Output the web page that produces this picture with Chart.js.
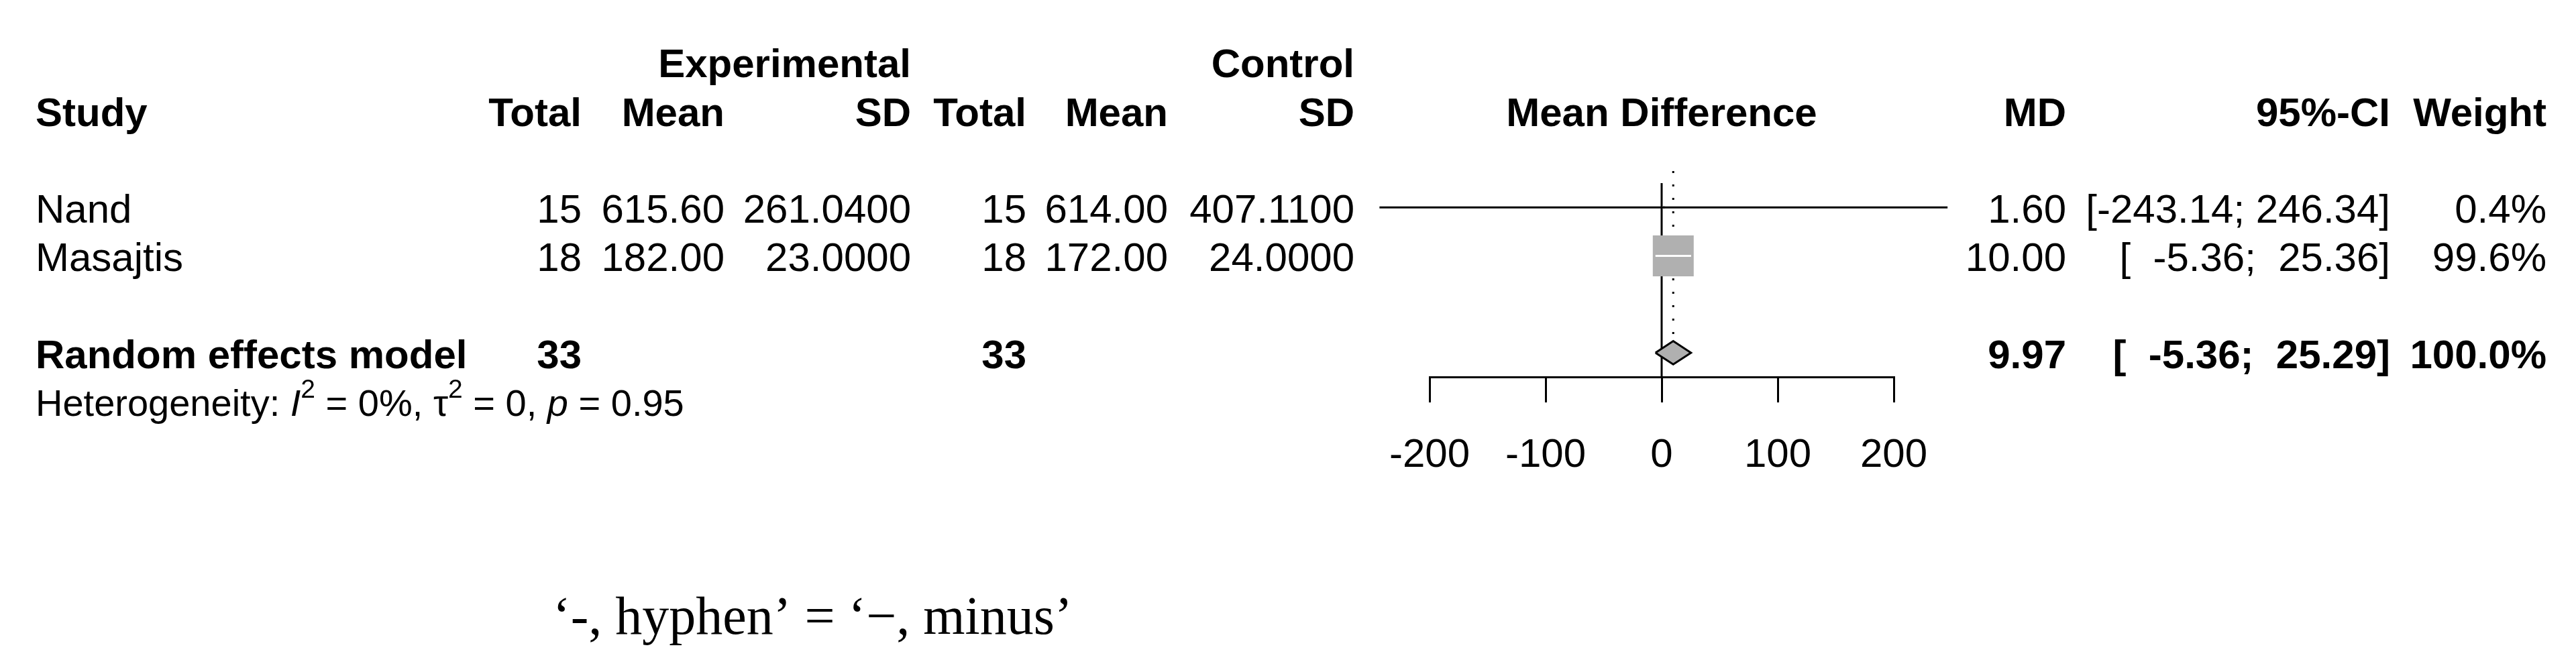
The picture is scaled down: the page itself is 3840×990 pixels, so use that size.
<!DOCTYPE html>
<html>
<head>
<meta charset="utf-8">
<title>Forest plot</title>
<script src="https://cdn.jsdelivr.net/npm/chart.js@4.4.1/dist/chart.umd.min.js"></script>
<style>
  html, body { margin: 0; padding: 0; background: #fff; }
  #wrap { width: 3840px; height: 990px; }
</style>
</head>
<body>
<div id="wrap"><canvas id="forest" width="3840" height="990"></canvas></div>
<script>
// study level data
const STUDIES = ['Nand', 'Masajtis'];
const EXP_TOTAL = [15, 18];
const EXP_MEAN = [615.60, 182.00];
const EXP_SD = [261.04, 23.00];
const CTRL_TOTAL = [15, 18];
const CTRL_MEAN = [614.00, 172.00];
const CTRL_SD = [407.11, 24.00];
const MD = [1.60, 10.00];
const CI_LOWER = [-243.14, -5.36];
const CI_UPPER = [246.34, 25.36];
const WEIGHT = [0.4, 99.6];

// pooled estimate
const POOLED_LABEL = 'Random effects model';
const POOLED_TOTALS = [33, 33];
const POOLED_MD = 9.97;
const POOLED_LOWER = -5.36;
const POOLED_UPPER = 25.29;
const POOLED_WEIGHT = 100.0;

// heterogeneity
const HET_I2 = 0;
const HET_TAU2 = 0;
const HET_P = 0.95;

const NULL_EFFECT = 0;
const X_TICKS = [-200, -100, 0, 100, 200];
const NOTE = '\u2018-, hyphen\u2019 = \u2018\u2212, minus\u2019';

const SANS = '"Liberation Sans", Arial, Helvetica, sans-serif';
const SERIF = '"Liberation Serif", "Times New Roman", serif';
const FS = 60;
const GREY = '#b0b0b0';
const SQUARE_MAX = 61;     // px, side of the heaviest study square
const DIAMOND_HALF = 0.24; // row units

const pooledRow = STUDIES.length + 2;
const maxW = Math.max(...WEIGHT);

function squareSide(i) {
	return SQUARE_MAX * Math.sqrt(WEIGHT[i] / maxW);
}

// CI drawn white when it sits inside its square (as meta does)
function ciColor(chart, i) {
	const x = chart.scales.x;
	if (!x) return '#000';
	const c = x.getPixelForValue(MD[i]);
	const half = squareSide(i) / 2;
	const inside = x.getPixelForValue(CI_LOWER[i]) >= c - half && x.getPixelForValue(CI_UPPER[i]) <= c + half;
	return inside ? '#fff' : '#000';
}

function padList(arr) {
	const s = arr.map(v => v.toFixed(2));
	const w = Math.max(...s.map(t => t.length));
	return s.map(t => t.padStart(w, ' '));
}
const allLower = padList(CI_LOWER.concat([POOLED_LOWER]));
const allUpper = padList(CI_UPPER.concat([POOLED_UPPER]));
const ciText = allLower.map((l, i) => '[' + l + '; ' + allUpper[i] + ']');

const COL = {
	study: 53,
	expTotal: 867, expMean: 1080, expSD: 1358,
	ctrlTotal: 1530, ctrlMean: 1741, ctrlSD: 2019,
	md: 3080, ci: 3563, weight: 3796,
};

function put(ctx, str, x, y, align, weight, size, family, style) {
	ctx.font = (style || 'normal') + ' ' + (weight || 'normal') + ' ' + (size || FS) + 'px ' + (family || SANS);
	ctx.textAlign = align || 'left';
	ctx.textBaseline = 'alphabetic';
	ctx.fillStyle = '#000';
	ctx.fillText(str, x, y);
	return ctx.measureText(str).width;
}

const tablePlugin = {
	id: 'forestTable',
	afterDraw(chart) {
		const ctx = chart.ctx;
		const ys = chart.scales.y;
		const xs = chart.scales.x;
		const rowY = r => ys.getPixelForValue(r) + 23;
		ctx.save();

		// headers
		put(ctx, 'Experimental', COL.expSD, rowY(-2), 'right', 'bold');
		put(ctx, 'Control', COL.ctrlSD, rowY(-2), 'right', 'bold');
		const h = rowY(-1);
		put(ctx, 'Study', COL.study, h, 'left', 'bold');
		put(ctx, 'Total', COL.expTotal, h, 'right', 'bold');
		put(ctx, 'Mean', COL.expMean, h, 'right', 'bold');
		put(ctx, 'SD', COL.expSD, h, 'right', 'bold');
		put(ctx, 'Total', COL.ctrlTotal, h, 'right', 'bold');
		put(ctx, 'Mean', COL.ctrlMean, h, 'right', 'bold');
		put(ctx, 'SD', COL.ctrlSD, h, 'right', 'bold');
		put(ctx, 'Mean Difference', (xs.left + xs.right) / 2, h, 'center', 'bold');
		put(ctx, 'MD', COL.md, h, 'right', 'bold');
		put(ctx, '95%-CI', COL.ci, h, 'right', 'bold');
		put(ctx, 'Weight', COL.weight, h, 'right', 'bold');

		// study rows
		STUDIES.forEach((s, i) => {
			const y = rowY(i + 1);
			put(ctx, s, COL.study, y, 'left');
			put(ctx, String(EXP_TOTAL[i]), COL.expTotal, y, 'right');
			put(ctx, EXP_MEAN[i].toFixed(2), COL.expMean, y, 'right');
			put(ctx, EXP_SD[i].toFixed(4), COL.expSD, y, 'right');
			put(ctx, String(CTRL_TOTAL[i]), COL.ctrlTotal, y, 'right');
			put(ctx, CTRL_MEAN[i].toFixed(2), COL.ctrlMean, y, 'right');
			put(ctx, CTRL_SD[i].toFixed(4), COL.ctrlSD, y, 'right');
			put(ctx, MD[i].toFixed(2), COL.md, y, 'right');
			put(ctx, ciText[i], COL.ci, y, 'right');
			put(ctx, WEIGHT[i].toFixed(1) + '%', COL.weight, y, 'right');
		});

		// pooled row
		const p = rowY(pooledRow);
		put(ctx, POOLED_LABEL, COL.study, p, 'left', 'bold');
		put(ctx, String(POOLED_TOTALS[0]), COL.expTotal, p, 'right', 'bold');
		put(ctx, String(POOLED_TOTALS[1]), COL.ctrlTotal, p, 'right', 'bold');
		put(ctx, POOLED_MD.toFixed(2), COL.md, p, 'right', 'bold');
		put(ctx, ciText[STUDIES.length], COL.ci, p, 'right', 'bold');
		put(ctx, POOLED_WEIGHT.toFixed(1) + '%', COL.weight, p, 'right', 'bold');

		// heterogeneity line
		const hy = ys.getPixelForValue(pooledRow + 1) + 22;
		const parts = [
			['Heterogeneity: ', 0, 'normal'],
			['I', 0, 'italic'],
			['2', 1, 'normal'],
			[' = ' + HET_I2 + '%, ', 0, 'normal'],
			['\u03c4', 0, 'normal'],
			['2', 1, 'normal'],
			[' = ' + HET_TAU2 + ', ', 0, 'normal'],
			['p', 0, 'italic'],
			[' = ' + HET_P.toFixed(2), 0, 'normal'],
		];
		let hx = COL.study;
		parts.forEach(([t, sup, st]) => {
			hx += sup
				? put(ctx, t, hx, hy - 27, 'left', 'normal', 39, SANS, st)
				: put(ctx, t, hx, hy, 'left', 'normal', 56, SANS, st);
		});

		// footnote
		put(ctx, NOTE, 824, 945, 'left', 'normal', 80, SERIF);
		ctx.restore();
	},
};

const ciSets = STUDIES.map((s, i) => ({
	label: 'CI ' + s,
	data: [{ x: CI_LOWER[i], y: i + 1 }, { x: CI_UPPER[i], y: i + 1 }],
	showLine: true,
	borderColor: (c) => ciColor(c.chart, i),
	borderWidth: 3,
	pointRadius: 0,
	clip: false,
	order: 2,
}));

const config = {
	type: 'scatter',
	data: {
		datasets: [
			{
				label: 'diamond',
				data: [
					{ x: POOLED_LOWER, y: pooledRow },
					{ x: POOLED_MD, y: pooledRow - DIAMOND_HALF },
					{ x: POOLED_UPPER, y: pooledRow },
					{ x: POOLED_MD, y: pooledRow + DIAMOND_HALF },
					{ x: POOLED_LOWER, y: pooledRow },
				],
				showLine: true,
				fill: 'shape',
				backgroundColor: GREY,
				borderColor: '#000',
				borderWidth: 3,
				borderJoinStyle: 'miter',
				pointRadius: 0,
				clip: false,
				order: 1,
			},
			...ciSets,
			{
				label: 'squares',
				data: STUDIES.map((s, i) => ({ x: MD[i], y: i + 1 })),
				pointStyle: 'rect',
				pointRadius: (c) => squareSide(c.dataIndex) / (2 * Math.SQRT1_2),
				backgroundColor: GREY,
				borderWidth: 0,
				clip: false,
				order: 3,
			},
			{
				label: 'pooled',
				data: [{ x: POOLED_MD, y: 0.25 }, { x: POOLED_MD, y: pooledRow - DIAMOND_HALF }],
				showLine: true,
				borderColor: '#000',
				borderWidth: 3,
				borderDash: [3, 17],
				pointRadius: 0,
				clip: false,
				order: 4,
			},
			{
				label: 'null',
				data: [{ x: NULL_EFFECT, y: 0.5 }, { x: NULL_EFFECT, y: pooledRow + 0.5 }],
				showLine: true,
				borderColor: '#000',
				borderWidth: 3,
				pointRadius: 0,
				clip: false,
				order: 5,
			},
		],
	},
	options: {
		responsive: false,
		animation: false,
		devicePixelRatio: 1,
		locale: 'en-US',
		layout: { padding: { left: 2131, right: 1017, top: 255, bottom: 0 } },
		plugins: {
			legend: { display: false },
			tooltip: { enabled: false },
		},
		scales: {
			x: {
				type: 'linear',
				position: 'bottom',
				min: X_TICKS[0],
				max: X_TICKS[X_TICKS.length - 1],
				afterBuildTicks: (axis) => { axis.ticks = X_TICKS.map(v => ({ value: v })); },
				afterFit: (axis) => { axis.height = 990 - 562; },
				grid: {
					drawOnChartArea: false,
					drawTicks: true,
					tickLength: 38,
					tickWidth: 3,
					tickColor: '#000',
					color: '#000',
					lineWidth: 3,
				},
				border: { display: true, color: '#000', width: 3 },
				ticks: {
					color: '#000',
					padding: 43,
					maxRotation: 0,
					font: { family: SANS, size: FS },
				},
			},
			y: {
				type: 'linear',
				display: false,
				reverse: true,
				min: 0.25,
				max: pooledRow + 0.5,
			},
		},
	},
	plugins: [tablePlugin],
};

window.forestChart = new Chart(document.getElementById('forest'), config);
</script>
</body>
</html>
